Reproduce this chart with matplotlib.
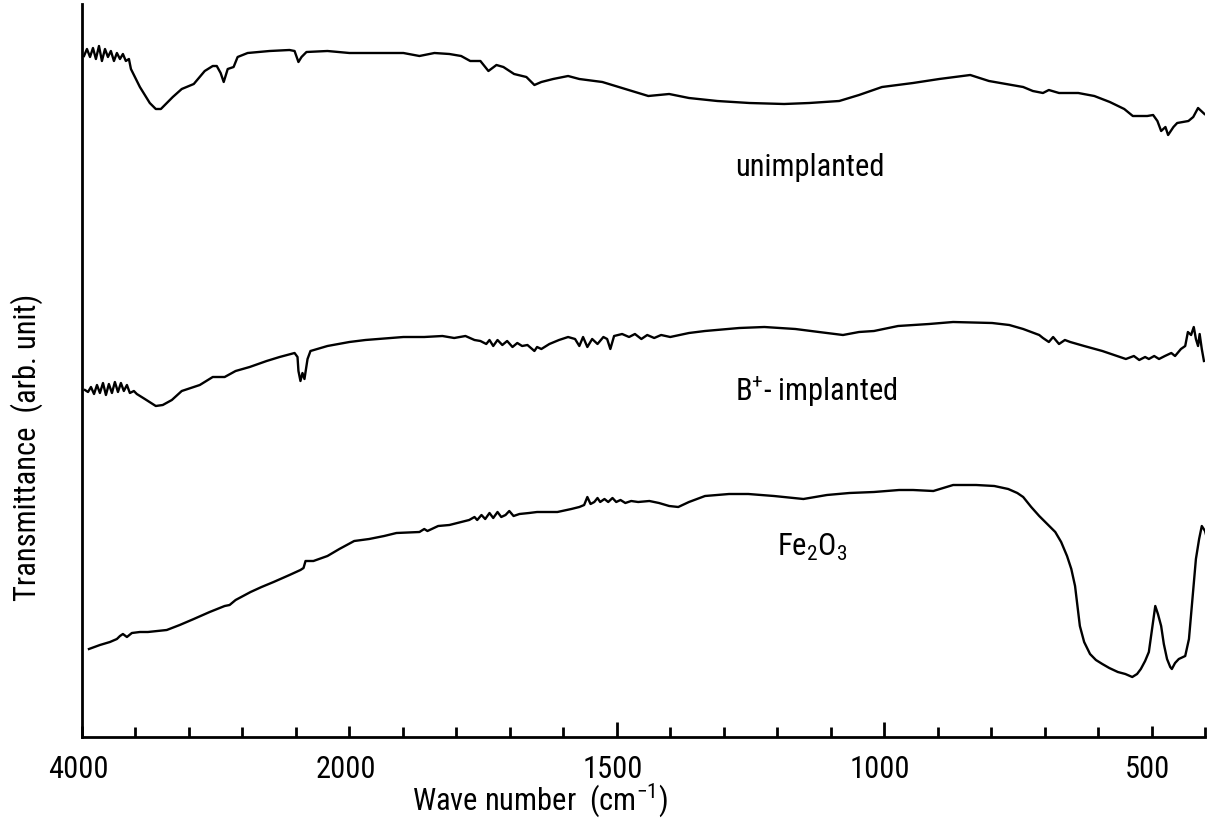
import numpy as np
import matplotlib
matplotlib.use("Agg")
import matplotlib.pyplot as plt
from matplotlib import font_manager as fm
from matplotlib.ticker import FixedLocator, FixedFormatter
import matplotlib.transforms as mtransforms

# ---------------- data (wavenumber in cm^-1, transmittance in arb. units) -------------
wn_unimpl = [3985, 3963, 3940, 3918, 3896, 3873, 3851, 3828, 3806, 3784,
             3761, 3739, 3716, 3694, 3672, 3649, 3634, 3567, 3493, 3448,
             3410, 3321, 3254, 3164, 3082, 3022, 2992, 2963, 2940, 2910,
             2866, 2836, 2761, 2597, 2448, 2410, 2381, 2358, 2321, 2164,
             2000, 1970, 1899, 1869, 1841, 1813, 1791, 1774, 1755, 1740,
             1725, 1712, 1692, 1669, 1654, 1641, 1619, 1591, 1570, 1527,
             1484, 1441, 1402, 1365, 1312, 1252, 1187, 1140, 1084, 1047,
             1004, 946, 897, 839, 804, 740, 722, 703, 692, 673,
             637, 607, 578, 551, 535, 508, 497, 489, 482, 474,
             469, 459, 452, 431, 422, 413, 407, 401]
T_unimpl = [681, 688, 680, 689, 678, 691, 676, 688, 680, 686,
            676, 684, 678, 683, 676, 678, 668, 650, 634, 628,
            628, 640, 648, 653, 666, 671, 671, 664, 655, 668,
            670, 680, 684, 686, 687, 686, 675, 680, 685, 686,
            684, 684, 684, 681, 684, 683, 681, 676, 676, 666,
            672, 670, 663, 660, 652, 655, 658, 661, 658, 655,
            648, 641, 643, 639, 636, 634, 633, 634, 636, 642,
            650, 654, 658, 662, 656, 650, 646, 644, 647, 644,
            644, 641, 635, 628, 621, 621, 622, 616, 606, 610,
            602, 610, 614, 616, 620, 629, 626, 623]

wn_bimpl = [3978, 3955, 3933, 3910, 3888, 3866, 3843, 3821, 3799, 3776,
            3754, 3731, 3709, 3687, 3664, 3642, 3612, 3590,
            3530, 3448, 3396, 3328, 3254, 3119, 3022, 2933, 2851, 2746,
            2619, 2522, 2410, 2388, 2381, 2366, 2351, 2336, 2313, 2291,
            2164, 2000, 1970, 1899, 1860, 1826, 1804, 1783, 1766, 1755,
            1744, 1738, 1731, 1723, 1714, 1705, 1695, 1686, 1677, 1667,
            1654, 1649, 1641, 1626, 1608, 1591, 1578, 1570, 1563, 1555,
            1546, 1536, 1525, 1518, 1512, 1505, 1490, 1477, 1466, 1454,
            1443, 1430, 1417, 1400, 1365, 1335, 1271, 1224, 1166, 1122,
            1077, 1047, 1019, 974, 916, 871, 798, 766, 740, 710,
            703, 692, 684, 673, 662, 652, 626, 592, 570, 548,
            533, 523, 512, 505, 495, 486, 475, 463, 456, 445,
            437, 432, 426, 421, 417, 413, 410, 406, 402]
T_bimpl = [347, 345, 350, 343, 352, 344, 354, 342, 353, 344,
           355, 345, 354, 346, 352, 344, 346, 343,
           338, 331, 332, 337, 346, 352, 360, 360, 366, 370,
           376, 380, 384, 380, 366, 356, 364, 358, 378, 386,
           391, 395, 397, 400, 400, 401, 399, 401, 397, 396,
           393, 397, 391, 397, 392, 396, 390, 394, 391, 392,
           386, 390, 388, 393, 397, 400, 398, 391, 400, 390,
           398, 393, 400, 398, 388, 401, 403, 400, 403, 398,
           402, 399, 402, 400, 404, 406, 409, 410, 408, 405,
           402, 405, 406, 411, 413, 415, 414, 412, 408, 402,
           399, 395, 400, 393, 397, 395, 391, 386, 382, 378,
           381, 377, 380, 378, 381, 378, 381, 384, 381, 388,
           391, 405, 402, 410, 398, 391, 403, 388, 376]

wn_fe2o3 = [3948, 3866, 3791, 3739, 3716, 3694, 3664, 3627, 3567, 3507,
            3433, 3366, 3269, 3164, 3045, 2933, 2896, 2851, 2739, 2657,
            2567, 2448, 2366, 2343, 2328, 2269, 2164, 2075, 1991, 1963,
            1935, 1912, 1869, 1860, 1854, 1834, 1813, 1791, 1776, 1766,
            1761, 1753, 1746, 1738, 1731, 1723, 1716, 1708, 1701, 1693,
            1682, 1664, 1649, 1611, 1585, 1570, 1561, 1555, 1549, 1542,
            1536, 1531, 1523, 1516, 1508, 1501, 1493, 1484, 1473, 1460,
            1439, 1421, 1402, 1385, 1365, 1335, 1290, 1254, 1206, 1151,
            1107, 1065, 1019, 972, 946, 908, 871, 828, 794, 768,
            751, 740, 725, 710, 695, 680, 669, 658, 650, 643,
            639, 634, 626, 615, 604, 592, 579, 563, 549, 536,
            527, 520, 512, 505, 499, 493, 488, 482, 477, 471,
            465, 462, 456, 449, 437, 430, 424, 417, 411, 406,
            400, 396]
T_fe2o3 = [88, 92, 95, 98, 101, 103, 100, 104, 105, 105,
           106, 107, 112, 118, 125, 131, 132, 137, 145, 150,
           155, 162, 167, 169, 176, 176, 181, 188, 196, 198,
           201, 204, 205, 208, 206, 211, 212, 215, 217, 220,
           217, 222, 218, 224, 219, 225, 220, 222, 226, 221,
           223, 224, 225, 225, 228, 230, 232, 240, 233, 235,
           239, 235, 238, 235, 239, 235, 237, 234, 236, 235,
           236, 234, 231, 230, 235, 241, 243, 243, 241, 238,
           242, 244, 245, 247, 247, 246, 252, 252, 251, 248,
           244, 240, 230, 221, 213, 205, 195, 181, 168, 151,
           133, 111, 95, 83, 77, 73, 69, 65, 63, 60,
           63, 68, 76, 85, 108, 131, 123, 111, 93, 78,
           70, 68, 74, 78, 81, 98, 135, 178, 198, 211,
           206, 198]

series_labels = ["unimplanted", r"B$^{+}$- implanted", r"Fe$_2$O$_3$"]
label_pos_wn = [1138, 1127, 1134]
label_pos_T = [571, 346, 191]

major_ticks = [4000, 2000, 1500, 1000, 500]
major_labels = ["4000", "2000", "1500", "1000", "500"]
minor_ticks = [3600, 3200, 2800, 2400,
               1900, 1800, 1700, 1600, 1400, 1300, 1200, 1100,
               900, 800, 700, 600, 400]

# ---------------- font selection ----------------
avail = {f.name for f in fm.fontManager.ttflist}
family = None
stretch = "normal"
for cand in ["Liberation Sans Narrow", "DejaVu Sans Condensed", "Roboto Condensed",
             "Open Sans Condensed"]:
    if cand in avail:
        family = cand
        break
if family is None:
    family = "DejaVu Sans"
    if any(f.name == "DejaVu Sans" and "Condensed" in f.fname for f in fm.fontManager.ttflist):
        stretch = "condensed"

plt.rcParams["font.family"] = [family]
plt.rcParams["font.stretch"] = stretch
plt.rcParams["mathtext.fontset"] = "custom"
plt.rcParams["mathtext.rm"] = family
plt.rcParams["mathtext.it"] = family
plt.rcParams["mathtext.bf"] = family
plt.rcParams["mathtext.default"] = "regular"

FS = 22

# ---------------- scale: 4000-2000 compressed 4x ----------------
def fwd(w):
    w = np.asarray(w, dtype=float)
    return np.where(w <= 2000, w, 2000 + (w - 2000) / 4.0)

def inv(u):
    u = np.asarray(u, dtype=float)
    return np.where(u <= 2000, u, 2000 + (u - 2000) * 4.0)

fig = plt.figure(figsize=(12.16, 8.2), dpi=100)
ax = fig.add_axes([82 / 1216, 82 / 820, (1205 - 82) / 1216, 733 / 820])
ax.set_xscale("function", functions=(fwd, inv))
ax.set_xlim(4000, 400)
ax.set_ylim(0, 733)

lw = 1.7
ax.plot(wn_unimpl, T_unimpl, color="black", lw=lw)
ax.plot(wn_bimpl, T_bimpl, color="black", lw=lw)
ax.plot(wn_fe2o3, T_fe2o3, color="black", lw=lw)

for lab, xw, yt in zip(series_labels, label_pos_wn, label_pos_T):
    ax.text(xw, yt, lab, fontsize=FS, ha="center", va="center")

for s in ["top", "right"]:
    ax.spines[s].set_visible(False)
for s in ["left", "bottom"]:
    ax.spines[s].set_linewidth(2.0)

ax.xaxis.set_major_locator(FixedLocator(major_ticks))
ax.xaxis.set_major_formatter(FixedFormatter(major_labels))
ax.xaxis.set_minor_locator(FixedLocator(minor_ticks))
ax.tick_params(axis="x", which="major", direction="in", length=8, width=2,
               labelsize=FS, pad=12)
ax.tick_params(axis="x", which="minor", direction="in", length=7, width=2)
ax.tick_params(axis="y", left=False, labelleft=False)

# longer ticks at 1500 and 1000
for t, v in zip(ax.xaxis.get_major_ticks(), major_ticks):
    if v in (1500, 1000):
        t.tick1line.set_markersize(11)

offset = mtransforms.ScaledTranslation(-4 / 100, 0, fig.dpi_scale_trans)
for lbl in ax.get_xticklabels():
    lbl.set_transform(lbl.get_transform() + offset)

ax.set_xlabel(r"Wave number  (cm$^{-1}$)", fontsize=FS)
ax.xaxis.set_label_coords((540 - 82) / 1123, (738 - 800) / 733)
ax.xaxis.label.set_va("center")
ax.set_ylabel("Transmittance  (arb. unit)", fontsize=FS)
ax.yaxis.set_label_coords((27 - 82) / 1123, (738 - 447) / 733)
ax.yaxis.label.set_va("center")

fig.savefig("out.png", dpi=100)
